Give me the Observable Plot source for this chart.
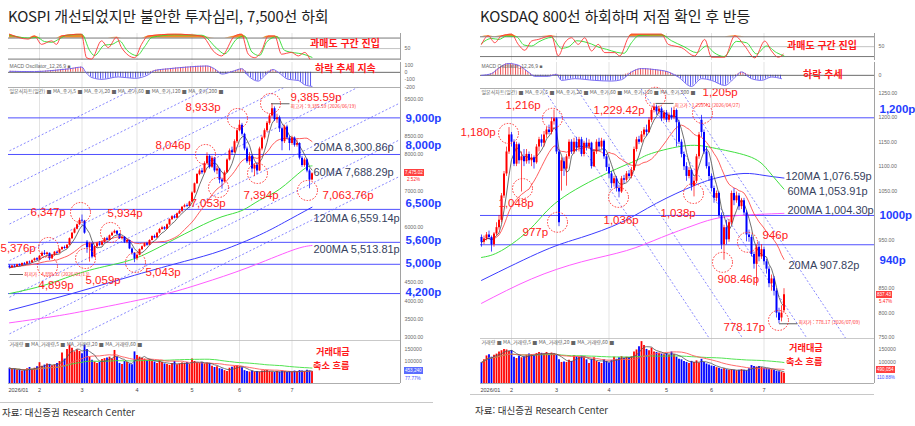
<!DOCTYPE html>
<html lang="ko"><head><meta charset="utf-8">
<script src="https://cdn.jsdelivr.net/npm/d3@7"></script>
<script src="https://cdn.jsdelivr.net/npm/@observablehq/plot@0.6"></script>
<style>
html,body{margin:0;padding:0;background:#fff;}
#root{position:relative;width:915px;height:426px;overflow:hidden;font-family:"Noto Sans CJK KR","Noto Sans",sans-serif;}
#root svg{position:absolute;}
.t{position:absolute;white-space:nowrap;line-height:1;}
.title{font-size:15px;color:#1e1e1e;font-weight:400;letter-spacing:-0.2px;}
.note{color:#ff1a1a;font-weight:700;font-size:10px;text-align:center;}
.note.sm{font-size:9.2px;}
.src{font-size:9.5px;color:#333;}
.tag{font-family:"Liberation Sans",Arial,sans-serif;font-size:4.6px;line-height:7px;padding:0 1px;color:#fff;}
.pct{font-family:"Liberation Sans",Arial,sans-serif;font-size:4.6px;}
.sep{position:absolute;height:1px;background:#c8c8c8;}
</style></head>
<body><div id="root"></div>
<script>
// ---------------- KOSPI data ----------------
const kospiOpen = [4950,4900,4950,4930,4990,4960,5020,5000,5060,5040,
 5100,5150,5120,5220,5300,5270,5300,5150,5250,5330,
 5300,5400,5460,5430,5520,5700,5850,5960,6080,6200,
 6180,5600,5450,5550,5200,5480,5560,5520,5600,5700,
 5660,5780,5850,5900,5820,5700,5740,5600,5650,5420,
 5300,5150,5250,5400,5480,5560,5520,5650,5760,5720,
 5850,5950,6000,5960,6080,6220,6300,6260,6380,6450,
 6560,6600,6580,6700,6950,7200,7450,7550,7500,7750,
 7950,7650,7900,7550,7600,7300,7250,7500,7850,8100,
 8050,8350,8650,8800,8550,8150,7800,7950,7600,7700,
 7550,8150,8450,8650,8850,9050,9250,8950,9000,8700,
 8350,8750,8450,8300,8450,8250,8300,7900,7700,7850,7550,7300];
const kospiClose = [4900,4950,4930,4990,4960,5020,5000,5060,5040,5100,
 5150,5120,5220,5300,5270,5310,5150,5250,5330,5300,
 5400,5460,5430,5520,5700,5850,5960,6080,6200,6180,
 5850,5450,5550,5200,5480,5560,5520,5600,5700,5660,
 5780,5850,5900,5820,5700,5740,5600,5650,5420,5300,
 5150,5250,5400,5480,5560,5520,5650,5760,5720,5850,
 5950,6000,5960,6080,6220,6300,6260,6380,6450,6560,
 6600,6580,6700,6950,7200,7450,7550,7500,7750,7950,
 7650,7900,7550,7600,7300,7250,7500,7850,8100,8050,
 8350,8650,8800,8550,8150,7800,7950,7600,7700,7550,
 8150,8450,8650,8850,9050,9250,8950,9000,8700,8350,
 8750,8450,8300,8450,8250,8300,7900,7700,7850,7550,7300,7475.02];
const kospiHigh = [4980,4970,4990,5000,5010,5040,5050,5080,5090,5120,
 5170,5180,5240,5340,5376,5330,5310,5270,5350,5360,
 5420,5480,5500,5540,5720,5870,5990,6100,6260,6347,
 6200,5650,5600,5580,5500,5600,5620,5640,5730,5740,
 5800,5880,5934,5920,5840,5760,5760,5680,5660,5450,
 5320,5280,5420,5500,5580,5600,5670,5780,5800,5870,
 5980,6040,6030,6100,6240,6330,6340,6400,6480,6580,
 6640,6650,6720,6980,7220,7480,7600,7620,7800,8046,
 7980,7950,7920,7680,7620,7350,7550,7880,8150,8200,
 8400,8700,8933,8850,8580,8200,8050,7980,7750,7780,
 8200,8500,8700,8900,9100,9385.59,9300,9100,9050,8750,
 8800,8800,8500,8500,8480,8400,8320,7950,7900,7880,7600,7500];
const kospiLow = [4900,4899.32,4910,4920,4940,4950,4980,4990,5010,5030,
 5080,5100,5110,5200,5240,5230,5100,5130,5230,5280,
 5290,5380,5410,5420,5510,5680,5830,5940,6060,6120,
 5820,5300,5059,5150,5180,5450,5490,5500,5580,5640,
 5650,5760,5830,5790,5680,5660,5570,5560,5400,5250,
 5043,5100,5230,5380,5460,5490,5510,5640,5700,5710,
 5830,5930,5930,5950,6060,6200,6240,6250,6360,6430,
 6540,6550,6570,6690,6930,7180,7420,7450,7480,7720,
 7600,7620,7500,7450,7200,7053,7230,7480,7820,7980,
 8030,8300,8620,8500,8100,7750,7700,7500,7394,7450,
 7540,8100,8400,8600,8800,9000,8900,8850,8600,8100,
 8300,8400,8100,8250,8200,8200,7850,7650,7650,7500,7063.76,7280];
const kospiVolume = [72000,68000,70000,62000,66000,60000,64000,70000,75000,68000,
 72000,78000,95000,80000,85000,90000,88000,82000,86000,92000,
 100000,135000,110000,150000,168000,155000,140000,148000,142000,132000,
 168000,150000,118000,105000,98000,92000,96000,108000,112000,115000,
 118000,110000,146000,118000,92000,88000,100000,96000,90000,86000,
 140000,125000,118000,112000,110000,104000,108000,100000,98000,92000,
 104000,96000,90000,88000,84000,92000,100000,86000,90000,94000,
 92000,96000,88000,110000,100000,94000,92000,96000,90000,94000,
 92000,80000,75000,78000,70000,68000,62000,58000,72000,76000,
 80000,82000,78000,74000,62000,58000,56000,60000,56000,58000,
 56000,60000,62000,62000,58000,56000,54000,58000,56000,60000,
 58000,54000,58000,56000,60000,58000,62000,60000,58000,64000,60000,58000];
const kospiMA60Idx = [0,15,30,45,55,65,75,85,93,100,108,117,121];
const kospiMA60 = [4200,4450,4800,5050,5300,5650,6000,6300,6470,6750,7050,7560,7688.29];
const kospiMA120Idx = [0,25,50,70,85,100,110,121];
const kospiMA120 = [3740,4200,4700,5080,5380,5800,6150,6559.14];
const kospiMA200Idx = [0,20,37,60,77,95,113,121];
const kospiMA200 = [3400,3600,3820,4150,4480,4900,5380,5513.81];
const kospiStochKIdx = [0,7.5,10,12.8,16.8,18.8,20.8,28.8,30.8,32.8,36.8,39.5,42.8,44.8,50.1,52.8,55.5,66.1,76.8,82.1,84.8,90.1,92.8,95.5,98.1,100.8,103.5,106.1,108.8,112.8,115.5,118.1,120.1];
const kospiStochK = [91,77,86,62,72,62,86,91,24,20,72,53,82,53,24,62,86,91,86,39,29,86,91,34,24,43,86,86,34,39,29,39,20];
const kospiStochDIdx = [0,8,11,14,17,20,23,29,32,34,38,41,44,47,51,54,57,66,77,83,86,91,94,97,100,103,107,110,114,117,121];
const kospiStochD = [88,80,82,70,68,78,88,90,45,30,60,62,72,45,30,55,82,89,88,50,35,78,86,40,30,70,84,45,38,35,25];
const kospiMacdIdx = [0,10,17,24,29,30.5,33,37,43.5,50,55.5,58,63.5,71,79,82,85,89,93,95.5,99.5,102,105.5,107.5,111.5,115.5,118,121];
const kospiMacd = [14,10,24,48,71,0,-71,-95,-62,-81,-33,24,48,71,86,48,-24,10,48,-48,-119,-48,38,0,-95,-110,-167,-190];
const kospiLevels = [9000,8000,6500,5600,5000,4200];
const kospiLevelText = ["9,000p","8,000p","6,500p","5,600p","5,000p","4,200p"];
const kospiLevelTextAt = [9000,8245,6661,5650,5022,4235];
const kospiPriceTicks = [3000,3500,4000,4500,6000,7000,8000,8500,9500];
const kospiChannelStart = [2100,3100,4100,5100,6100,7100,8100];
const kospiChannelEnd = [7400,8400,9400,10400,11400,12400,13400];
const kospiChannelIdx = [0,156];
const kospiNoteText = ["9,385.59p","8,933p","8,046p","7,053p","7,394p","7,063.76p","6,347p","5,934p","5,376p","4,899p","5,059p","5,043p"];
const kospiNoteIdx = [112.4,70.4,58.4,72.4,93.6,125.2,8.4,39.2,-3.6,11.6,30.4,54.4];
const kospiNoteAt = [9557,9284,8246,6661,6880,6880,6415,6388,5432,4421,4557,4776];
const kospiCircleIdx = [104.4,91.2,78.4,83.6,99.2,119.2,28.4,40.4,15.6,15.2,30.4,50.4];
const kospiCircleAt = [9393,8984,8000,7098,7481,7016,6415,5869,5459,4940,5158,5049];
const kospiMaText = ["20MA 8,300.86p","60MA 7,688.29p","120MA 6,559.14p","200MA 5,513.81p"];
const kospiMaTextIdx = [121.6,121.6,121.6,121.6];
const kospiMaTextAt = [8191,7508,6251,5404];
const kospiMonthIdx = [0,12,29,51,73,92,113];

// ---------------- KOSDAQ data ----------------
const kosdaqOpen = [955,945,952,960,955,940,962,975,990,1040,
 1085,1130,1165,1150,1105,1145,1112,1120,1110,1125,
 1112,1118,1108,1140,1155,1148,1165,1175,1170,1192,
 1198,1130,1090,1110,1095,1120,1150,1130,1150,1138,
 1155,1125,1148,1140,1148,1100,1130,1150,1140,1152,
 1120,1098,1085,1065,1075,1055,1048,1075,1072,1085,
 1080,1092,1135,1155,1150,1165,1175,1170,1195,1215,
 1222,1212,1218,1198,1210,1195,1205,1200,1215,1190,
 1150,1125,1100,1080,1092,1060,1070,1120,1195,1170,
 1130,1100,1080,1055,1035,1045,1000,940,975,950,
 985,1045,1030,1040,1018,1030,1005,960,955,920,
 900,935,915,930,905,890,860,870,845,800,790,805];
const kosdaqClose = [945,952,960,955,940,962,975,990,1040,1085,
 1130,1165,1150,1105,1145,1112,1120,1110,1125,1112,
 1118,1108,1140,1155,1148,1165,1175,1170,1192,1198,
 1130,985,1112,1095,1120,1150,1130,1150,1138,1155,
 1125,1148,1140,1148,1100,1130,1150,1140,1152,1120,
 1098,1085,1065,1075,1055,1048,1075,1072,1085,1080,
 1092,1135,1155,1150,1165,1175,1170,1195,1215,1222,
 1212,1218,1198,1210,1195,1205,1200,1215,1190,1150,
 1125,1100,1080,1092,1060,1070,1120,1165,1170,1130,
 1100,1080,1055,1035,1045,1000,940,975,950,985,
 1045,1030,1040,1018,1030,1005,960,955,920,900,
 935,915,930,905,890,860,870,845,800,785,800,837.43];
const kosdaqHigh = [960,958,965,968,958,965,985,1000,1045,1090,
 1140,1180,1170,1155,1150,1148,1130,1135,1135,1130,
 1125,1122,1145,1160,1165,1172,1180,1185,1200,1216,
 1200,1135,1118,1118,1125,1155,1155,1158,1160,1160,
 1160,1152,1158,1155,1150,1135,1155,1158,1158,1155,
 1125,1105,1090,1080,1080,1062,1080,1082,1090,1092,
 1098,1140,1160,1162,1172,1180,1185,1200,1220,1229.42,
 1226,1224,1222,1215,1215,1210,1220,1222,1218,1195,
 1155,1130,1108,1098,1095,1078,1125,1170,1205,1175,
 1140,1108,1085,1060,1050,1048,1005,980,990,992,
 1050,1055,1048,1045,1035,1035,1010,970,960,925,
 940,946,940,935,910,895,878,875,850,810,815,850];
const kosdaqLow = [935,940,948,950,925,935,958,970,985,1035,
 1080,1125,1140,1100,1100,1105,1048,1100,1105,1105,
 1100,1095,1105,1130,1140,1140,1158,1165,1165,1185,
 1125,977,1050,1080,1060,1115,1125,1125,1130,1130,
 1120,1120,1132,1135,1095,1098,1125,1132,1135,1115,
 1090,1075,1055,1058,1048,1036,1045,1065,1068,1075,
 1075,1090,1130,1145,1148,1160,1162,1168,1190,1210,
 1205,1206,1192,1194,1190,1190,1195,1196,1140,1145,
 1118,1092,1070,1075,1050,1038,1065,1115,1160,1125,
 1095,1070,1048,1025,1028,995,930,908.46,940,945,
 980,1020,1025,1010,1012,1000,946,945,915,890,
 855,905,910,898,880,852,845,835,790,778.17,782,800];
const kosdaqVolume = [100000,110000,125000,130000,120000,128000,132000,140000,145000,150000,
 148000,142000,146000,120000,115000,125000,118000,122000,128000,132000,
 130000,126000,134000,138000,135000,132000,138000,128000,136000,133000,
 128000,110000,100000,102000,100000,108000,104000,126000,122000,120000,
 124000,118000,110000,96000,112000,118000,104000,100000,96000,110000,
 104000,98000,108000,120000,112000,118000,122000,115000,120000,118000,
 122000,140000,148000,160000,180000,165000,150000,145000,155000,140000,
 138000,135000,132000,130000,134000,128000,140000,130000,120000,112000,
 110000,104000,100000,96000,104000,100000,106000,98000,112000,100000,
 94000,90000,86000,84000,80000,78000,74000,76000,72000,70000,
 72000,70000,68000,70000,72000,70000,68000,76000,88000,84000,
 82000,84000,80000,78000,76000,74000,72000,70000,66000,64000,62000,58000];
const kosdaqMA60Idx = [0,8,20,31,50,62,68,82,94,108,115,121];
const kosdaqMA60 = [914,928,975,1031,1086,1113,1127,1143,1137,1119,1090,1053.91];
const kosdaqMA120Idx = [0,25,40,56,70,85,95,105,113,121];
const kosdaqMA120 = [867,928,955,986,1025,1061,1078,1086,1082,1076.59];
const kosdaqMA200Idx = [0,20,40,58,72,85,96,110,121];
const kosdaqMA200 = [820,870,905,928,955,980,996,1002,1004.30];
const kosdaqStochKIdx = [0,2.7,5.3,8,12,14.7,17.3,20,22.7,28,30.7,33.3,36,38.7,41.3,44,46.7,49.3,53.3,55.3,58.7,60,72,74.7,80,85.3,89.3,92,97.3,101.3,105.3,109.3,113.3,116,118.7,120.7];
const kosdaqStochK = [57,83,62,83,88,57,39,67,72,83,22,62,77,57,77,37,57,32,32,22,77,88,88,57,47,22,72,18,18,83,52,16,67,37,18,27];
const kosdaqStochDIdx = [0,4,7,10,14,17,20,23,28,32,35,38,41,44,47,50,54,57,60,63,72,76,81,86,90,93,97,102,106,110,114,118,121];
const kosdaqStochD = [60,75,72,82,80,55,52,65,78,45,50,68,65,58,48,42,33,30,62,84,86,68,50,32,52,32,20,66,62,28,52,32,22];
const kosdaqMacdIdx = [0,4,6.7,10.7,14.7,18.7,21.3,26.7,30,32,37.3,45.3,52,56,60,64,69.3,74.7,78.7,84,88,92,97.3,101.3,104,108,112,116,120];
const kosdaqMacd = [0,5,20,35,30,10,-3,-3,3,-15,-10,-15,-17,-13,10,20,17,10,-5,-33,-10,-15,-30,-7,10,-10,-15,-5,-10];
const kosdaqLevels = [1200,1000,940];
const kosdaqLevelText = ["1,200p","1000p","940p"];
const kosdaqLevelTextAt = [1217,1000,908];
const kosdaqPriceTicks = [750,800,850,950,1050,1100,1150,1200,1250];
const kosdaqChannelStart = [1450,1553,1751,1870];
const kosdaqChannelEnd = [241,344,542,661];
const kosdaqChannelIdx = [0,157];
const kosdaqNoteText = ["1,205p","1,216p","1,229.42p","1,180p","1,048p","977p","1,036p","1,038p","946p","908.46p","778.17p"];
const kosdaqNoteIdx = [88.4,9.6,44.8,-8.4,6.8,16.4,48.8,71.6,112.4,94.4,96.8];
const kosdaqNoteAt = [1252,1225,1215,1170,1025,965,990,1004,959,869,770];
const kosdaqCircleIdx = [88.4,28.4,69.6,10.8,16.4,30.4,54.8,84.8,106.4,96.4,118.8];
const kosdaqCircleAt = [1209,1199,1242,1168,1055,986,1037,1045,945,904,785];
const kosdaqMaText = ["120MA 1,076.59p","60MA 1,053.91p","200MA 1,004.30p","20MA 907.82p"];
const kosdaqMaTextIdx = [121.6,122.4,122.4,122.8];
const kosdaqMaTextAt = [1080,1049,1010,898];
const kosdaqMonthIdx = [0,12,30,51,74,92,113];

const monthLabels = ["2026/01","2","3","4","5","6","7"];

// ---------------- helpers ----------------
const UP = "#ff0000", DOWN = "#0000ff";
const NUM = '"Liberation Sans", Arial, sans-serif';
const KR = '"Noto Sans CJK KR", "Noto Sans", sans-serif';
const root = document.getElementById("root");

const tableOf = (O,C,H,L,V) => O.map((o,i) => ({i, open:o, close:C[i], high:H[i], low:L[i], vol:V[i]}));
const pts = (idx, vals) => idx.map((x,k) => ({i:x, v:vals[k]}));
const txt = (idx, vals, texts) => texts.map((t,k) => ({i: idx ? idx[k] : null, v: vals[k], t}));

function mk(c, top, height, yDom, marks, marginBottom = 0) {
  const svg = Plot.plot({
    width: c.width, height, marginLeft: c.mL, marginRight: c.mR, marginTop: 0, marginBottom,
    x: {domain: c.xDom, axis: null},
    y: {domain: yDom, axis: null},
    color: {type: "identity"},
    style: {background: "transparent", overflow: "visible", fontFamily: NUM},
    marks
  });
  svg.style.left = c.left + "px";
  svg.style.top = top + "px";
  root.appendChild(svg);
  return svg;
}

function stripe(svg, id, color, key) {
  const ns = "http://www.w3.org/2000/svg";
  let defs = svg.querySelector("defs");
  if (!defs) { defs = document.createElementNS(ns, "defs"); svg.insertBefore(defs, svg.firstChild); }
  const p = document.createElementNS(ns, "pattern");
  p.setAttribute("id", id); p.setAttribute("width", "2.5"); p.setAttribute("height", "10");
  p.setAttribute("patternUnits", "userSpaceOnUse");
  const r = document.createElementNS(ns, "rect");
  r.setAttribute("width", "0.9"); r.setAttribute("height", "10"); r.setAttribute("fill", color);
  p.appendChild(r); defs.appendChild(p);
  svg.querySelectorAll(`[fill="${key}"]`).forEach(el => el.setAttribute("fill", `url(#${id})`));
}

function buildChart(c) {
  const gridX = () => Plot.ruleX(c.months.slice(1), {x: "i", stroke: "#dcdcdc", strokeWidth: 0.8});
  const axisLine = () => Plot.ruleX([c.xDom[1]], {stroke: "#8a8a8a", strokeWidth: 0.8});
  const tickText = (vals, fmt) => Plot.text(vals, {y: d => d, text: fmt, frameAnchor: "right", dx: 4, textAnchor: "start", lineAnchor: "middle", fontSize: 5.2, fill: "#6a6a6a"});
  const color = d => d.close >= d.open ? UP : DOWN;

  // Stochastic slow
  mk(c, 33, 27, c.stochDom, [
    gridX(),
    Plot.areaY(c.K, {x: "i", y1: () => 80, y2: d => Math.max(80, d.v), fill: "#f28c28", curve: "monotone-x"}),
    Plot.areaY(c.K, {x: "i", y1: () => 20, y2: d => Math.min(20, d.v), fill: "#1fb89a", curve: "monotone-x"}),
    Plot.ruleY([80, 20], {stroke: "#555", strokeWidth: 0.8}),
    Plot.ruleY([50], {stroke: "#9a9a9a", strokeWidth: 0.6}),
    Plot.line(c.D, {x: "i", y: "v", stroke: "#2fdc2f", strokeWidth: 0.9, curve: "monotone-x"}),
    Plot.line(c.K, {x: "i", y: "v", stroke: "#ff3535", strokeWidth: 0.9, curve: "monotone-x"}),
    tickText([50], d => String(d)),
    axisLine()
  ]);

  // MACD oscillator
  const macdSvg = mk(c, c.macdTop, c.macdH, c.macdDom, [
    gridX(),
    Plot.areaY(c.macd, {x: "i", y1: () => 0, y2: d => Math.max(0, d.v), fill: "#010101", curve: "monotone-x"}),
    Plot.areaY(c.macd, {x: "i", y1: () => 0, y2: d => Math.min(0, d.v), fill: "#020202", curve: "monotone-x"}),
    Plot.ruleY([0], {stroke: "#444", strokeWidth: 0.8}),
    Plot.line(c.macd, {x: "i", y: "v", stroke: "#6a5cf0", strokeWidth: 0.9, curve: "monotone-x"}),
    Plot.text(["MACD Oscillator_12,26,9 ■"], {text: d => d, frameAnchor: "top-left", dx: 1, dy: 2, fontSize: 5, fill: "#666", textAnchor: "start", lineAnchor: "top"}),
    tickText(c.macdTicks, d => String(d)),
    Plot.ruleY([c.macdDom[0]], {stroke: "#aaa", strokeWidth: 0.7}),
    axisLine()
  ]);
  stripe(macdSvg, c.pfx + "R", "#ee4a4a", "#010101");
  stripe(macdSvg, c.pfx + "B", "#4a4af0", "#020202");

  // Main candlestick panel
  mk(c, c.mainTop, c.mainH, c.mainDom, [
    gridX(),
    Plot.ruleY(c.levels, {stroke: "#4f4fff", strokeWidth: 1}),
    Plot.link(c.channel, {x1: "x1", y1: "y1", x2: "x2", y2: "y2", stroke: "#6a6aff", strokeWidth: 0.8, strokeDasharray: "2,2", clip: true}),
    Plot.line(c.ma200, {x: "i", y: "v", stroke: "#ff5cff", strokeWidth: 1, curve: "natural"}),
    Plot.line(c.ma120, {x: "i", y: "v", stroke: "#3c3cff", strokeWidth: 1, curve: "natural"}),
    Plot.line(c.ma60, {x: "i", y: "v", stroke: "#3fe03f", strokeWidth: 1, curve: "natural"}),
    Plot.lineY(c.candles, Plot.windowY({k: 20, anchor: "end"}, {x: "i", y: "close", stroke: "#ff4d4d", strokeWidth: 0.9})),
    Plot.lineY(c.candles, Plot.windowY({k: 5, anchor: "end"}, {x: "i", y: "close", stroke: "#4a4a4a", strokeWidth: 0.8})),
    Plot.ruleX(c.candles, {x: "i", y1: "low", y2: "high", stroke: color, strokeWidth: 0.7}),
    Plot.ruleX(c.candles, {x: "i", y1: "open", y2: "close", stroke: color, strokeWidth: 2}),
    Plot.link(c.hiLo, {x1: "x1", x2: "x2", y1: "y", y2: "y", stroke: "#333", strokeWidth: 0.8}),
    Plot.text(c.hiLo, {x: "tx", y: "ty", text: "t", fontSize: 4.8, fill: "#ff3030", textAnchor: "start", fontFamily: KR}),
    Plot.dot(c.circles, {x: "i", y: "v", r: 10, stroke: "#ff2a2a", strokeWidth: 1, strokeDasharray: "1.5,1.5", fill: "none"}),
    Plot.text(c.labels, {x: "i", y: "v", text: "t", fontSize: 11.5, fill: "#ff2020", textAnchor: "start"}),
    Plot.text(c.maLabels, {x: "i", y: "v", text: "t", fontSize: 11, fill: "#36425e", textAnchor: "start"}),
    tickText(c.priceTicks, d => d.toFixed(2)),
    Plot.text(c.levelLabels, {y: "v", text: "t", frameAnchor: "right", dx: 5, textAnchor: "start", lineAnchor: "middle", fontSize: 11.5, fontWeight: "bold", fill: "#1f3dff"}),
    Plot.text([c.legend], {text: d => d, frameAnchor: "top-left", dx: 1, dy: 2, fontSize: 5, fill: "#666", textAnchor: "start", lineAnchor: "top", fontFamily: KR}),
    Plot.ruleY([c.mainDom[1]], {stroke: "#aaa", strokeWidth: 0.8}),
    axisLine()
  ]);

  // Volume panel + month axis
  mk(c, c.volTop, c.volH, c.volDom, [
    gridX(),
    Plot.ruleX(c.candles, {x: "i", y1: () => c.volDom[0], y2: "vol", stroke: color, strokeWidth: 1.8}),
    Plot.lineY(c.candles, Plot.windowY({k: 60, anchor: "end"}, {x: "i", y: "vol", stroke: "#3fe03f", strokeWidth: 0.9})),
    Plot.lineY(c.candles, Plot.windowY({k: 20, anchor: "end"}, {x: "i", y: "vol", stroke: "#ff5a5a", strokeWidth: 0.9})),
    Plot.lineY(c.candles, Plot.windowY({k: 5, anchor: "end"}, {x: "i", y: "vol", stroke: "#555", strokeWidth: 0.8})),
    Plot.text([c.volLegend], {text: d => d, frameAnchor: "top-left", dx: 1, dy: 2, fontSize: 5, fill: "#666", textAnchor: "start", lineAnchor: "top", fontFamily: KR}),
    tickText(c.volTicks, d => String(d)),
    Plot.ruleY([c.volDom[0]], {stroke: "#999", strokeWidth: 0.8}),
    Plot.ruleY([c.volDom[1]], {stroke: "#bbb", strokeWidth: 0.8}),
    Plot.text(c.months.slice(1), {x: "i", text: "label", frameAnchor: "bottom", dy: 7, lineAnchor: "middle", fontSize: 5.5, fill: "#444"}),
    Plot.text(c.months.slice(0, 1), {x: "i", text: "label", frameAnchor: "bottom", dy: 7, dx: -1, lineAnchor: "middle", textAnchor: "start", fontSize: 5.5, fill: "#444"}),
    axisLine()
  ], 13);
}

const channelOf = (idx, s, e) => s.map((v,k) => ({x1: idx[0], y1: v, x2: idx[1], y2: e[k]}));
const monthsOf = idx => idx.map((i,k) => ({i, label: monthLabels[k]}));

const kospiCfg = {
  pfx: "kp", left: 0, width: 450, mL: 8, mR: 50, xDom: [-0.4, 156.4],
  candles: tableOf(kospiOpen, kospiClose, kospiHigh, kospiLow, kospiVolume),
  months: monthsOf(kospiMonthIdx),
  stochDom: [16, 93], K: pts(kospiStochKIdx, kospiStochK), D: pts(kospiStochDIdx, kospiStochD),
  macdTop: 62, macdH: 25, macdDom: [-205, 133], macd: pts(kospiMacdIdx, kospiMacd), macdTicks: [100, 0, -100, -200],
  mainTop: 87, mainH: 253, mainDom: [2918, 9830],
  levels: kospiLevels, levelLabels: txt(null, kospiLevelTextAt, kospiLevelText),
  priceTicks: kospiPriceTicks,
  channel: channelOf(kospiChannelIdx, kospiChannelStart, kospiChannelEnd),
  ma60: pts(kospiMA60Idx, kospiMA60), ma120: pts(kospiMA120Idx, kospiMA120), ma200: pts(kospiMA200Idx, kospiMA200),
  labels: txt(kospiNoteIdx, kospiNoteAt, kospiNoteText),
  circles: pts(kospiCircleIdx, kospiCircleAt),
  maLabels: txt(kospiMaTextIdx, kospiMaTextAt, kospiMaText),
  hiLo: [
    {x1: 104.6, x2: 112, y: 9385.59, tx: 112.4, ty: 9300, t: "최고가 : 9,385.59 (2026/06/19)"},
    {x1: 0, x2: 5.4, y: 4721, tx: 5.8, ty: 4721, t: "최저가 : 4,899.32 (2026/01/13)"}
  ],
  legend: "일본식차트(일간) ■ MA_종가,5 ■ MA_종가,20 ■ MA_종가,60 ■ MA_종가,120 ■ MA_종가,200 ■",
  volTop: 340, volH: 56, volDom: [8300, 187500], volTicks: [150000, 100000],
  volLegend: "거래량 ■ MA_거래량,5 ■ MA_거래량,20 ■ MA_거래량,60 ■"
};

const kosdaqCfg = {
  pfx: "kq", left: 460, width: 455, mL: 20, mR: 41, xDom: [-0.4, 157.2],
  candles: tableOf(kosdaqOpen, kosdaqClose, kosdaqHigh, kosdaqLow, kosdaqVolume),
  months: monthsOf(kosdaqMonthIdx),
  stochDom: [8, 90], K: pts(kosdaqStochKIdx, kosdaqStochK), D: pts(kosdaqStochDIdx, kosdaqStochD),
  macdTop: 62, macdH: 26, macdDom: [-39, 38], macd: pts(kosdaqMacdIdx, kosdaqMacd), macdTicks: [0],
  mainTop: 88, mainH: 250, mainDom: [748, 1260],
  levels: kosdaqLevels, levelLabels: txt(null, kosdaqLevelTextAt, kosdaqLevelText),
  priceTicks: kosdaqPriceTicks,
  channel: channelOf(kosdaqChannelIdx, kosdaqChannelStart, kosdaqChannelEnd),
  ma60: pts(kosdaqMA60Idx, kosdaqMA60), ma120: pts(kosdaqMA120Idx, kosdaqMA120), ma200: pts(kosdaqMA200Idx, kosdaqMA200),
  labels: txt(kosdaqNoteIdx, kosdaqNoteAt, kosdaqNoteText),
  circles: pts(kosdaqCircleIdx, kosdaqCircleAt),
  maLabels: txt(kosdaqMaTextIdx, kosdaqMaTextAt, kosdaqMaText),
  hiLo: [
    {x1: 69.6, x2: 76.8, y: 1229.42, tx: 77.2, ty: 1226, t: "최고가 : 1,229.42 (2026/04/27)"},
    {x1: 119, x2: 126.4, y: 778.17, tx: 126.8, ty: 780, t: "최저가 : 778.17 (2026/07/09)"}
  ],
  legend: "일본식차트(일간) ■ MA_종가,5 ■ MA_종가,20 ■ MA_종가,60 ■ MA_종가,120 ■ MA_종가,200 ■",
  volTop: 338, volH: 58, volDom: [19000, 192000], volTicks: [150000, 100000],
  volLegend: "거래량 ■ MA_거래량,5 ■ MA_거래량,20 ■ MA_거래량,60 ■"
};

buildChart(kospiCfg);
buildChart(kosdaqCfg);

// ---------------- HTML text around the charts ----------------
function put(cls, html, left, top, extra) {
  const d = document.createElement("div");
  d.className = "t " + cls; d.textContent = html;
  d.style.left = left + "px"; d.style.top = top + "px";
  if (extra) Object.assign(d.style, extra);
  root.appendChild(d);
  return d;
}
put("title", "KOSPI 개선되었지만 불안한 투자심리, 7,500선 하회", 8, 8);
put("title", "KOSDAQ 800선 하회하며 저점 확인 후 반등", 480, 8);
put("note", "과매도 구간 진입", 310, 38);
put("note", "하락 추세 지속", 315, 63);
put("note sm", "거래대금", 316, 346.5);
put("note sm", "축소 흐름", 313, 360.5);
put("note", "과매도 구간 진입", 787, 40);
put("note", "하락 추세", 803, 69);
put("note sm", "거래대금", 789, 342.5);
put("note sm", "축소 흐름", 786, 356.5);
put("tag", "7,475.02", 404, 169, {background: "#ff4040"});
put("pct", "2.52%", 407, 178, {color: "#ff2020"});
put("tag", "453,240", 404, 367, {background: "#5a6cff"});
put("pct", "77.77%", 405, 377, {color: "#3a4cff"});
put("tag", "837.43", 876, 291, {background: "#ff4040"});
put("pct", "5.47%", 879, 300, {color: "#ff2020"});
put("tag", "490,054", 876, 366, {background: "#ff4040"});
put("pct", "110.88%", 877, 376, {color: "#3a4cff"});
const s1 = document.createElement("div"); s1.className = "sep";
Object.assign(s1.style, {left: "0px", top: "402px", width: "433px"}); root.appendChild(s1);
const s2 = document.createElement("div"); s2.className = "sep";
Object.assign(s2.style, {left: "470px", top: "394px", width: "404px"}); root.appendChild(s2);
put("src", "자료: 대신증권 Research Center", 2, 408);
put("src", "자료: 대신증권 Research Center", 475, 406);
</script>
</body></html>
